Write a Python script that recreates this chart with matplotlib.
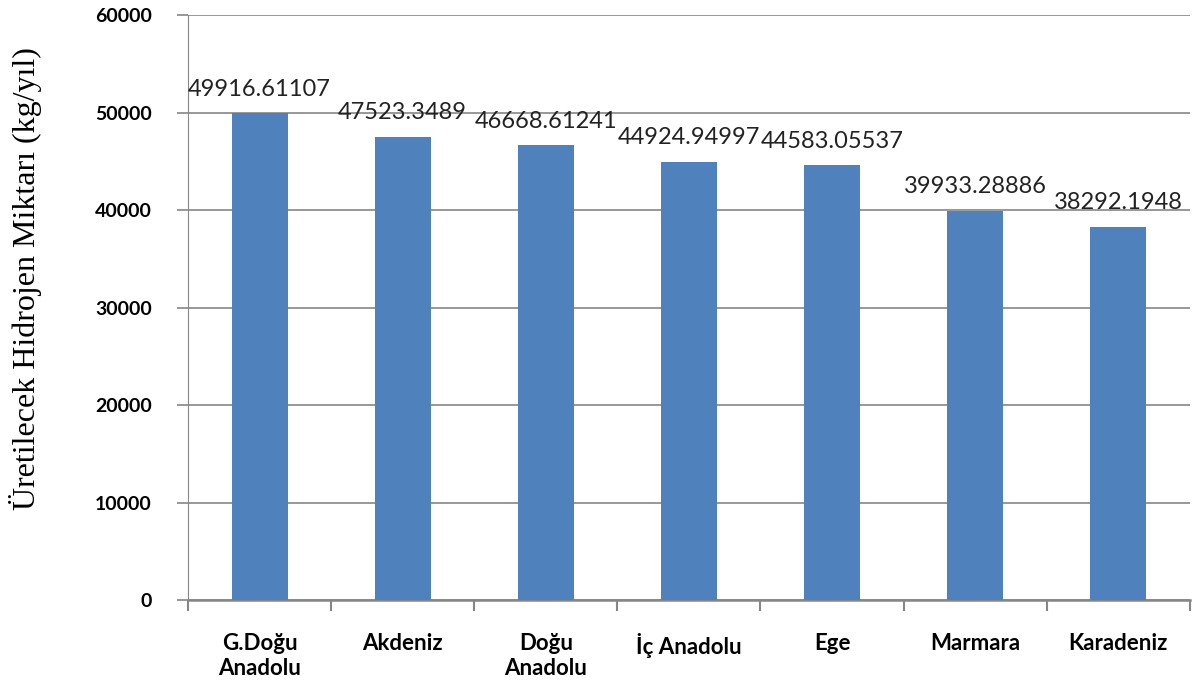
import matplotlib.pyplot as plt
import numpy as np

bolgeler = ['G.Doğu\nAnadolu', 'Akdeniz', 'Doğu\nAnadolu', 'İç Anadolu', 'Ege', 'Marmara', 'Karadeniz']
hidrojen = [49916.61107, 47523.3489, 46668.61241, 44924.94997, 44583.05537, 39933.28886, 38292.1948]
etiketler = ['49916.61107', '47523.3489', '46668.61241', '44924.94997', '44583.05537', '39933.28886', '38292.1948']

fig = plt.figure(figsize=(11.94, 6.92), dpi=100)
ax = fig.add_axes([0.1575, 0.133, 0.839, 0.845])

x = np.arange(len(bolgeler))
ax.bar(x, hidrojen, width=0.39, color='#4F81BD', zorder=3)
for xi, v, t in zip(x, hidrojen, etiketler):
    ax.text(xi, v + 1400, t, ha='center', va='bottom', fontsize=17,
            family='Lato', color='#222222', zorder=4)

ax.set_xlim(-0.5, len(bolgeler) - 0.5)
ax.set_ylim(0, 60000)
ax.set_yticks(np.arange(0, 60001, 10000))
ax.yaxis.grid(True, color='#868686', linewidth=1.2, zorder=0)
ax.set_axisbelow(True)

ax.set_xticks(x)
ax.set_xticklabels(bolgeler, fontsize=16, fontweight='bold', family='Lato', linespacing=1.2, va='top')
ax.tick_params(axis='x', length=0, pad=24)
# category boundary ticks
ax.set_xticks(np.arange(-0.5, len(bolgeler)), minor=True)
ax.tick_params(axis='x', which='minor', length=8, width=1.5, color='#868686', direction='out')
ax.tick_params(axis='y', length=8, width=1.2, color='#868686', pad=18, labelsize=14)
for lab in ax.get_yticklabels():
    lab.set_fontweight('bold')
    lab.set_family('Lato')

for s in ['top', 'right']:
    ax.spines[s].set_visible(False)
ax.spines['left'].set_color('#868686')
ax.spines['bottom'].set_color('#868686')
ax.spines['bottom'].set_linewidth(1.8)

ax.set_ylabel('Üretilecek Hidrojen Miktarı (kg/yıl)', fontsize=23, family='Liberation Serif')
ax.yaxis.set_label_coords(-0.1457, 0.549)

fig.savefig('out.png', dpi=100)
